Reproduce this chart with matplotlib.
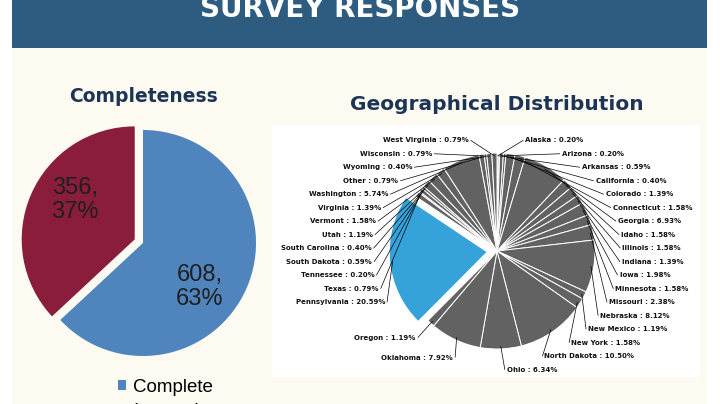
import numpy as np
import matplotlib
matplotlib.use("Agg")
import matplotlib.pyplot as plt
from matplotlib.patches import Rectangle

# Completeness of the survey responses
status_labels = ["Complete", "Incomplete"]
status_counts = [608, 356]

# Geographical distribution (% of responses), clockwise from 12 o'clock
states = ["Alaska", "Arizona", "Arkansas", "California", "Colorado", "Connecticut",
          "Georgia", "Idaho", "Illinois", "Indiana", "Iowa", "Minnesota", "Missouri",
          "Nebraska", "New Mexico", "New York", "North Dakota", "Ohio", "Oklahoma",
          "Oregon", "Pennsylvania", "Texas", "Tennessee", "South Dakota",
          "South Carolina", "Utah", "Vermont", "Virginia", "Washington", "Other",
          "Wyoming", "Wisconsin", "West Virginia"]
state_pct = [0.20, 0.20, 0.59, 0.40, 1.39, 1.58,
             6.93, 1.58, 1.58, 1.39, 1.98, 1.58, 2.38,
             8.12, 1.19, 1.58, 10.50, 6.34, 7.92,
             1.19, 20.59, 0.79, 0.20, 0.59,
             0.40, 1.19, 1.58, 1.39, 5.74, 0.79,
             0.40, 0.79, 0.79]
highlight = "Pennsylvania"

W, H = 720, 404
CREAM = "#FCFAF1"
NAVY = "#1C3557"

fig = plt.figure(figsize=(W / 100, H / 100), dpi=100, facecolor="white")


def box(x, y, w, h):
    # pixel box (top-left origin) -> figure fraction
    return [x / W, 1 - (y + h) / H, w / W, h / H]


# background: cream page, title band, white panel behind the geo pie
bg = fig.add_axes([0, 0, 1, 1])
bg.set_xlim(0, W)
bg.set_ylim(H, 0)
bg.axis("off")
bg.add_patch(Rectangle((12, 0), 695, H, color=CREAM, lw=0))
bg.add_patch(Rectangle((12, -5), 695, 53, color="#2E5B80", lw=0))
bg.add_patch(Rectangle((272, 125), 428, 252, color="white", lw=0))
bg.text(360, 17, "SURVEY RESPONSES", color="white", fontsize=20, fontweight="bold",
        ha="center", va="baseline")
bg.text(143, 96, "Completeness", color=NAVY, fontsize=13.5, fontweight="bold",
        ha="center", va="center")
bg.text(497, 104, "Geographical Distribution", color=NAVY, fontsize=14.5,
        fontweight="bold", ha="center", va="center")

# ---- Completeness pie ----
ax1 = fig.add_axes(box(18, 118, 250, 250))
total = sum(status_counts)
wedges1, _, autotexts = ax1.pie(
    status_counts, colors=["#4F84BD", "#8A1D3B"], startangle=90, counterclock=False,
    explode=[0, 0.08], pctdistance=0.62,
    autopct=lambda p: f"{round(p * total / 100)},\n{p:.0f}%",
    textprops=dict(fontsize=17, color="#1F1F1F", family="Liberation Sans"))
# value labels sit a little off the wedge centroids in the original
for t, pos in zip(autotexts, [(0.50, -0.39), (-0.60, 0.38)]):
    t.set_position(pos)
    t.set_linespacing(1.1)
ax1.set_aspect("auto")
ax1.set_xlim(-125 / 113, 125 / 113)
ax1.set_ylim(-125 / 113, 125 / 113)

fig.legend(wedges1, status_labels, loc="upper left", bbox_to_anchor=(118 / W, 1 - 379 / H),
           frameon=False, prop=dict(family="Liberation Sans", size=13.5),
           handlelength=0.42, handleheight=0.42, handletextpad=0.4,
           labelspacing=0.35, borderaxespad=0, borderpad=0)

# ---- Geographical pie ----
R = 98.0  # pie radius in pixels
ax2 = fig.add_axes(box(272, 125, 428, 252))
geo_colors = ["#35A3DA" if s == highlight else "#626262" for s in states]
geo_explode = [0.1 if s == highlight else 0 for s in states]
wedges2, _ = ax2.pie(state_pct, colors=geo_colors, explode=geo_explode,
                     startangle=90, counterclock=False,
                     wedgeprops=dict(edgecolor="white", linewidth=0.7))
ax2.set_aspect("auto")
ax2.set_xlim(-225 / R, 203 / R)
ax2.set_ylim(-126 / R, 126 / R)

# labels stacked in two columns around the pie with leader lines
gap, top, bottom = 13.5 / R, 1.13, -1.22
rx, ry = 1.28, 1.16
info = []
for s, v, w in zip(states, state_pct, wedges2):
    mid = np.deg2rad((w.theta1 + w.theta2) / 2)
    cx, cy = w.center
    rim = (cx + 0.97 * np.cos(mid), cy + 0.97 * np.sin(mid))
    side = 1 if np.cos(mid) >= 0 else -1
    info.append(dict(text=f"{s} : {v:.2f}%", rim=rim, side=side, ny=1.2 * np.sin(mid)))

for side in (1, -1):
    group = sorted([d for d in info if d["side"] == side], key=lambda d: -d["ny"])
    ys = []
    for d in group:
        ys.append(min(d["ny"], top if not ys else ys[-1] - gap))
    for i in range(len(ys) - 1, -1, -1):
        ys[i] = max(ys[i], bottom if i == len(ys) - 1 else ys[i + 1] + gap)
    for d, y in zip(group, ys):
        x = side * max(0.1, rx * np.sqrt(max(0.0, 1 - (y / ry) ** 2)))
        ax2.plot([d["rim"][0], x - side * 0.02], [d["rim"][1], y],
                 color="black", lw=0.5, solid_capstyle="butt")
        ax2.text(x, y, d["text"], fontsize=5, fontweight="bold", color="#111111",
                 ha="left" if side == 1 else "right", va="center")

fig.savefig("out.png", dpi=100, facecolor=fig.get_facecolor())
